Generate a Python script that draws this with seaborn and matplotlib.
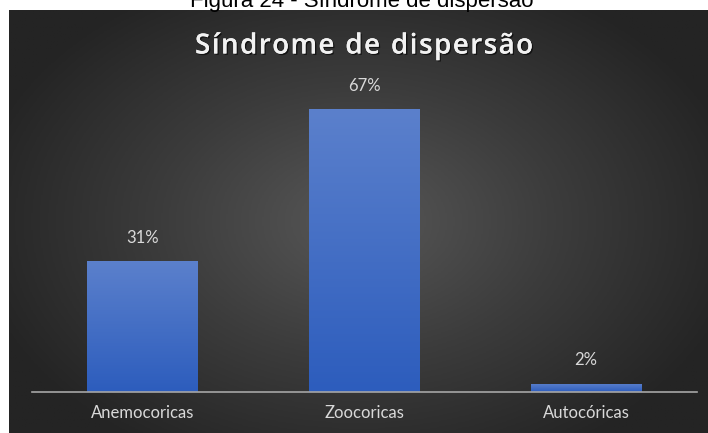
import numpy as np
import pandas as pd
import matplotlib.pyplot as plt
import seaborn as sns
import matplotlib.patheffects as pe
from matplotlib.colors import LinearSegmentedColormap

# Dados
categorias = ['Anemocoricas', 'Zoocoricas', 'Autocóricas']
percentuais = [31, 67, 2]
rotulos = ['31%', '67%', '2%']
titulo = 'Síndrome de dispersão'
legenda_figura = 'Figura 24 - Síndrome de dispersão'

df = pd.DataFrame({'Dispersao': categorias, 'Percentual': percentuais})

W, H = 708, 433
fig = plt.figure(figsize=(W / 100, H / 100), dpi=100)
fig.patch.set_facecolor('white')

# Fundo escuro com gradiente radial
bg = fig.add_axes([9 / W, 0, 1 - 9 / W, (H - 10) / H])
yy, xx = np.mgrid[0:1:300j, 0:1:500j]
r = np.sqrt(((xx - 0.5) / 0.75) ** 2 + ((yy - 0.5) / 0.85) ** 2)
grad = np.clip(r / 0.75, 0, 1)
cmap_bg = LinearSegmentedColormap.from_list('bg', ['#575757', '#3c3c3c', '#242424'])
bg.imshow(grad, cmap=cmap_bg, aspect='auto', extent=[0, 1, 0, 1], origin='lower')
bg.axis('off')

# Eixo principal
ax = fig.add_axes([32 / W, (H - 392) / H, (697 - 32) / W, (392 - 80) / H])
ax.patch.set_alpha(0)
sns.barplot(data=df, x='Dispersao', y='Percentual', color='#4472c4', width=0.5,
            ax=ax, zorder=2)
ymax = 67 * (392 - 80) / (392 - 109)

# Gradiente nas barras
cmap_bar = LinearSegmentedColormap.from_list('bar', ['#2d5dbd', '#5b80cc'])
for p in ax.patches:
    x0, y0 = p.get_x(), p.get_y()
    w, h = p.get_width(), p.get_height()
    img = ax.imshow(np.linspace(0, 1, 100).reshape(-1, 1), cmap=cmap_bar,
                    aspect='auto', origin='lower',
                    extent=[x0, x0 + w, y0, y0 + h], zorder=3)
    img.set_clip_path(p)
    p.set_edgecolor('none')
ax.set_xlim(-0.5, 2.5)
ax.set_ylim(0, ymax)

for i, (v, lab) in enumerate(zip(percentuais, rotulos)):
    ax.annotate(lab, (i, v), xytext=(0, 11), textcoords='offset points',
                ha='center', va='bottom', color='#d9d9d9', fontsize=12,
                family='Lato')

for s in ['top', 'right', 'left']:
    ax.spines[s].set_visible(False)
ax.spines['bottom'].set_color('#a6a6a6')
ax.spines['bottom'].set_linewidth(1.2)
ax.spines['bottom'].set_zorder(4)
ax.set_yticks([])
ax.tick_params(axis='x', length=0, pad=9, colors='#d9d9d9', labelsize=12)
for t in ax.get_xticklabels():
    t.set_family('Lato')
ax.set_xlabel('')
ax.set_ylabel('')

# Titulo com espacamento entre letras
renderer = fig.canvas.get_renderer()
sombra = [pe.withSimplePatchShadow(offset=(1, -1), shadow_rgbFace='black', alpha=0.6),
          pe.Normal()]
estilo = dict(fontsize=20, fontweight='semibold', family='Open Sans')
larguras = []
for ch in titulo:
    t = fig.text(0, 0, ch if ch != ' ' else 'n', **estilo)
    larguras.append(t.get_window_extent(renderer).width * (0.45 if ch == ' ' else 1))
    t.remove()
alvo = 338
espaco = (alvo - sum(larguras)) / (len(titulo) - 1)
x = 364 - alvo / 2
for ch, wl in zip(titulo, larguras):
    if ch != ' ':
        fig.text(x / W, 1 - 46 / H, ch, ha='left', va='center', color='#f2f2f2',
                 path_effects=sombra, **estilo)
    x += wl + espaco

fig.text(362 / W, 1 - 7 / H, legenda_figura, ha='center',
         va='baseline', color='black', fontsize=16, family='Liberation Sans')

fig.savefig('out.png', dpi=100)
